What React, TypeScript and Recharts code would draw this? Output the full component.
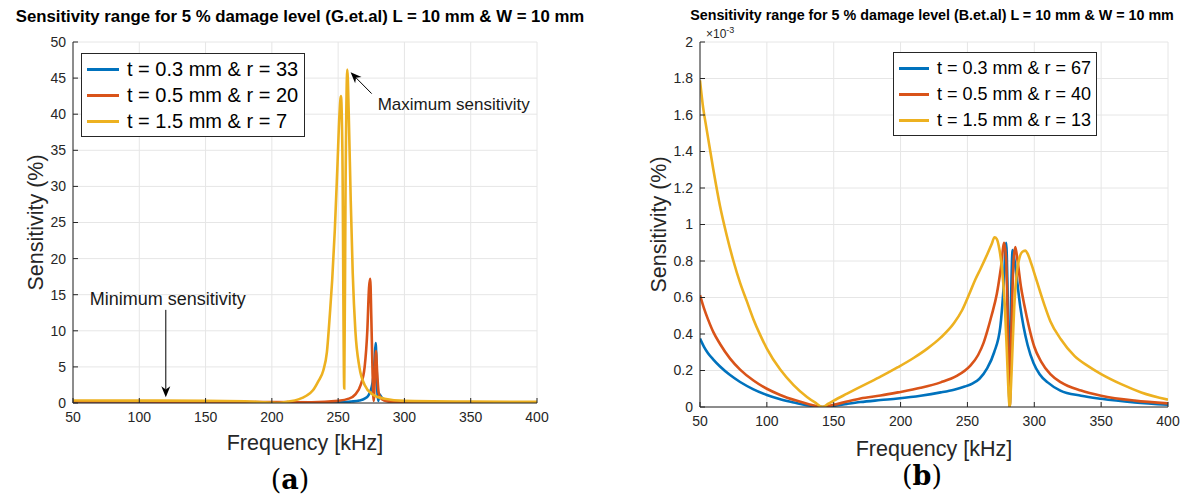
import React from "react";
import {
  LineChart,
  Line,
  XAxis,
  YAxis,
  CartesianGrid,
  Legend,
  ReferenceLine,
} from "recharts";

const BLUE = "#0072BD";
const ORANGE = "#D95319";
const YELLOW = "#EDB120";
const AXIS = "#262626";
const GRID = "#e6e6e6";

const freqTicks = [50, 100, 150, 200, 250, 300, 350, 400];
const ticksA = [0, 5, 10, 15, 20, 25, 30, 35, 40, 45, 50];
const ticksB = [0, 0.2, 0.4, 0.6, 0.8, 1, 1.2, 1.4, 1.6, 1.8, 2];

// (a) G.et.al, sensitivity in %
const freqA1 = [50, 100, 150, 200, 230, 250, 260, 266, 270, 273, 275, 276.5, 277.5, 278.3, 279, 279.6, 280.3, 281, 282, 284, 288, 295, 320, 360, 400];
const sensA1 = [0.12, 0.11, 0.1, 0.08, 0.06, 0.1, 0.2, 0.35, 0.6, 1.1, 2, 3.5, 6, 8.3, 5, 1.5, 0.3, 1.2, 1.0, 0.5, 0.25, 0.12, 0.05, 0.03, 0.02];
const freqA2 = [50, 100, 150, 200, 230, 250, 258, 263, 267, 270, 272, 273.3, 274.2, 275, 276, 276.8, 277.6, 278.5, 279.5, 280.5, 282, 285, 290, 300, 350, 400];
const sensA2 = [0.22, 0.2, 0.18, 0.12, 0.1, 0.3, 0.6, 1.2, 2.5, 5, 10, 16, 17.2, 12, 4, 0.3, 3, 7.2, 4, 1.5, 0.7, 0.35, 0.15, 0.08, 0.04, 0.02];
const freqA3 = [50, 100, 150, 180, 195, 203.6, 212, 220, 226, 231, 235, 238.8, 241.5, 243.8, 245.5, 247.5, 249.5, 251, 252.1, 253.2, 254.6, 255.6, 256.9, 258, 259.5, 261, 263, 266, 270, 276, 285, 300, 350, 400];
const sensA3 = [0.35, 0.33, 0.3, 0.25, 0.1, 0, 0.2, 0.5, 1, 1.76, 3, 4.5, 7, 12.4, 17, 24, 33, 40, 42.5, 35, 2, 30, 46.2, 40, 28, 18, 10, 5, 2.5, 1.2, 0.6, 0.3, 0.2, 0.15];

// (b) B.et.al, sensitivity in units of 1e-3 %
const freqB1 = [50, 53, 56, 60, 65, 72.5, 80, 90, 100, 110, 120, 127, 135, 142, 150, 160, 170, 185, 198, 215, 230, 240, 248, 254, 259, 264.6, 270, 274.6, 277, 279, 280, 281.6, 282.7, 283.8, 285.3, 287, 289.5, 292, 295, 299.5, 304, 310, 319.5, 335, 350, 375, 400];
const sensB1 = [0.375, 0.33, 0.295, 0.26, 0.222, 0.175, 0.137, 0.097, 0.066, 0.043, 0.025, 0.014, 0.005, 0, 0.006, 0.017, 0.027, 0.038, 0.047, 0.062, 0.08, 0.095, 0.112, 0.13, 0.155, 0.21, 0.3, 0.44, 0.65, 0.9, 0.65, 0, 0.6, 0.86, 0.8, 0.7, 0.55, 0.44, 0.34, 0.24, 0.18, 0.135, 0.09, 0.062, 0.045, 0.025, 0.012];
const freqB2 = [50, 53, 56, 60, 65, 72.5, 80, 90, 100, 110, 122, 132, 141.8, 150, 160, 170, 185, 198, 215, 230, 242, 252, 258, 262, 265, 268, 272, 275, 277.5, 279, 280.5, 281.6, 283, 284.5, 285.8, 287.5, 290, 292.5, 296, 300, 305, 312, 320, 335, 350, 375, 400];
const sensB2 = [0.613, 0.54, 0.48, 0.41, 0.345, 0.265, 0.205, 0.145, 0.1, 0.066, 0.035, 0.014, 0, 0.012, 0.03, 0.047, 0.063, 0.08, 0.105, 0.135, 0.17, 0.225, 0.285, 0.35, 0.42, 0.5, 0.62, 0.76, 0.9, 0.8, 0.35, 0, 0.45, 0.8, 0.876, 0.8, 0.66, 0.56, 0.44, 0.33, 0.25, 0.18, 0.135, 0.09, 0.062, 0.035, 0.02];
const freqB3 = [50, 52, 55, 60, 65, 70, 75, 80, 85, 90, 95, 100, 110, 120, 130, 136, 141.8, 146, 150, 160, 168, 177, 185, 198, 210, 220, 230, 240, 246, 252, 256, 260, 265, 268, 270.3, 272, 274, 276, 278, 279.5, 280.5, 281.6, 282.6, 283.6, 285, 287, 289, 291, 293.3, 295, 298, 301, 304, 308, 312, 320, 330, 340, 350, 365, 380, 400];
const sensB3 = [1.79, 1.66, 1.52, 1.3, 1.1, 0.94, 0.8, 0.68, 0.58, 0.48, 0.395, 0.32, 0.205, 0.12, 0.055, 0.025, 0, 0.018, 0.035, 0.073, 0.103, 0.136, 0.166, 0.218, 0.27, 0.32, 0.38, 0.46, 0.53, 0.63, 0.7, 0.76, 0.84, 0.89, 0.93, 0.92, 0.86, 0.75, 0.55, 0.3, 0.12, 0, 0.12, 0.3, 0.55, 0.74, 0.82, 0.85, 0.857, 0.84, 0.78, 0.71, 0.64, 0.55, 0.47, 0.37, 0.28, 0.225, 0.18, 0.125, 0.08, 0.04];

const zip = (xs: number[], ys: number[]) => xs.map((f, i) => ({ f, s: ys[i] }));

const namesA = ["t = 0.3 mm & r = 33", "t = 0.5 mm & r = 20", "t = 1.5 mm & r = 7"];
const namesB = ["t = 0.3 mm & r = 67", "t = 0.5 mm & r = 40", "t = 1.5 mm & r = 13"];

const tickStyle = { fill: AXIS, fontSize: 14 };

const renderLegend = (boxWidth: number, swatch: number, fontSize: number) => (props: any) => (
  <div
    style={{
      width: boxWidth,
      boxSizing: "border-box",
      border: "1px solid " + AXIS,
      background: "#fff",
      padding: "2px 0 2px 5px",
    }}
  >
    {props.payload.map((e: any) => (
      <div key={e.value} style={{ display: "flex", alignItems: "center", height: 26 }}>
        <span style={{ width: swatch, borderTop: `3px solid ${e.color}`, marginRight: 8 }} />
        <span style={{ fontSize, color: "#000", whiteSpace: "nowrap" }}>{e.value}</span>
      </div>
    ))}
  </div>
);

// arrow annotation drawn on a reference segment (tail -> tip)
const arrow = (text: string, where: "right" | "above", fontSize: number) => (p: any) => {
  const { x1, y1, x2, y2 } = p;
  const a = Math.atan2(y2 - y1, x2 - x1);
  const L = 11;
  const W = 4.5;
  const c = Math.cos(a);
  const s = Math.sin(a);
  const bx = x2 - L * c;
  const by = y2 - L * s;
  const nx = x2 - 0.7 * L * c;
  const ny = y2 - 0.7 * L * s;
  return (
    <g>
      <line x1={x1} y1={y1} x2={nx} y2={ny} stroke="#000" strokeWidth={1} />
      <polygon
        points={`${x2},${y2} ${bx - s * W},${by + c * W} ${nx},${ny} ${bx + s * W},${by - c * W}`}
        fill="#000"
      />
      {where === "right" ? (
        <text x={x1 + 6} y={y1 + 11} dominantBaseline="central" fontSize={fontSize} fill="#1a1a1a">
          {text}
        </text>
      ) : (
        <text x={x1 + 2} y={y1 - 11} textAnchor="middle" dominantBaseline="central" fontSize={fontSize} fill="#1a1a1a">
          {text}
        </text>
      )}
    </g>
  );
};

export default function App() {
  return (
    <div
      style={{
        position: "absolute",
        left: 0,
        top: 0,
        width: 1186,
        height: 498,
        background: "#fff",
        fontFamily: "'Liberation Sans', Arial, sans-serif",
      }}
    >
      <div style={{ position: "absolute", left: 0, width: 600, top: 7, textAlign: "center", fontWeight: "bold", fontSize: 16.8, color: "#000" }}>
        Sensitivity range for 5 % damage level (G.et.al) L = 10 mm &amp; W = 10 mm
      </div>
      <div style={{ position: "absolute", left: 682, width: 500, top: 7, textAlign: "center", fontWeight: "bold", fontSize: 14.3, color: "#000" }}>
        Sensitivity range for 5 % damage level (B.et.al) L = 10 mm &amp; W = 10 mm
      </div>

      {/* (a) */}
      <div style={{ position: "absolute", left: 0, top: 0 }}>
        <LineChart width={560} height={498} margin={{ top: 42, right: 23, bottom: 17, left: 0 }}>
          <CartesianGrid stroke={GRID} />
          <XAxis
            dataKey="f"
            type="number"
            domain={[50, 400]}
            ticks={freqTicks}
            height={78}
            tick={tickStyle}
            tickSize={-5}
            tickMargin={14}
            stroke={AXIS}
            allowDataOverflow
            label={{ value: "Frequency [kHz]", position: "center", style: { fontSize: 21.5, fill: AXIS } }}
          />
          <XAxis xAxisId="top" orientation="top" type="number" domain={[50, 400]} ticks={freqTicks} height={0} tickSize={-5} tickFormatter={() => ""} stroke={AXIS} />
          <YAxis
            type="number"
            domain={[0, 50]}
            ticks={ticksA}
            width={73}
            tick={tickStyle}
            tickSize={-5}
            tickMargin={12}
            stroke={AXIS}
            allowDataOverflow
            label={{ value: "Sensitivity (%)", angle: -90, position: "center", dx: -1, style: { fontSize: 21.5, fill: AXIS, textAnchor: "middle" } }}
          />
          <YAxis yAxisId="right" orientation="right" type="number" domain={[0, 50]} ticks={ticksA} width={0} tickSize={-5} tickFormatter={() => ""} stroke={AXIS} />
          <Legend content={renderLegend(224, 32, 20)} layout="horizontal" verticalAlign="middle" align="center" wrapperStyle={{ left: 81, top: 53, width: 224 }} />
          <Line data={zip(freqA1, sensA1)} dataKey="s" name={namesA[0]} stroke={BLUE} strokeWidth={2.6} dot={false} type="monotone" isAnimationActive={false} />
          <Line data={zip(freqA2, sensA2)} dataKey="s" name={namesA[1]} stroke={ORANGE} strokeWidth={2.6} dot={false} type="monotone" isAnimationActive={false} />
          <Line data={zip(freqA3, sensA3)} dataKey="s" name={namesA[2]} stroke={YELLOW} strokeWidth={2.6} dot={false} type="monotone" isAnimationActive={false} />
          <ReferenceLine segment={[{ x: 275.3, y: 42.85 }, { x: 259.4, y: 45.8 }]} shape={arrow("Maximum sensitivity", "right", 17)} ifOverflow="visible" />
          <ReferenceLine segment={[{ x: 120, y: 12.9 }, { x: 120, y: 0.8 }]} shape={arrow("Minimum sensitivity", "above", 18)} ifOverflow="visible" />
        </LineChart>
      </div>

      {/* (b) */}
      <div style={{ position: "absolute", left: 608, top: 0 }}>
        <LineChart width={578} height={498} margin={{ top: 42, right: 18, bottom: 9, left: 0 }}>
          <CartesianGrid stroke={GRID} />
          <XAxis
            dataKey="f"
            type="number"
            domain={[50, 400]}
            ticks={freqTicks}
            height={82}
            tick={tickStyle}
            tickSize={-5}
            tickMargin={14}
            stroke={AXIS}
            allowDataOverflow
            label={{ value: "Frequency [kHz]", position: "center", style: { fontSize: 21.5, fill: AXIS } }}
          />
          <XAxis xAxisId="top" orientation="top" type="number" domain={[50, 400]} ticks={freqTicks} height={0} tickSize={-5} tickFormatter={() => ""} stroke={AXIS} />
          <YAxis
            type="number"
            domain={[0, 2]}
            ticks={ticksB}
            width={92}
            tick={tickStyle}
            tickSize={-5}
            tickMargin={12}
            stroke={AXIS}
            allowDataOverflow
            label={{ value: "Sensitivity (%)", angle: -90, position: "center", dx: 4, style: { fontSize: 21.5, fill: AXIS, textAnchor: "middle" } }}
          />
          <YAxis yAxisId="right" orientation="right" type="number" domain={[0, 2]} ticks={ticksB} width={0} tickSize={-5} tickFormatter={() => ""} stroke={AXIS} />
          <Legend content={renderLegend(204, 30, 18)} layout="horizontal" verticalAlign="middle" align="center" wrapperStyle={{ left: 285, top: 52, width: 204 }} />
          <Line data={zip(freqB1, sensB1)} dataKey="s" name={namesB[0]} stroke={BLUE} strokeWidth={2.6} dot={false} type="monotone" isAnimationActive={false} />
          <Line data={zip(freqB2, sensB2)} dataKey="s" name={namesB[1]} stroke={ORANGE} strokeWidth={2.6} dot={false} type="monotone" isAnimationActive={false} />
          <Line data={zip(freqB3, sensB3)} dataKey="s" name={namesB[2]} stroke={YELLOW} strokeWidth={2.6} dot={false} type="monotone" isAnimationActive={false} />
        </LineChart>
        <div style={{ position: "absolute", left: 98, top: 25, fontSize: 12, color: AXIS }}>
          ×10<sup style={{ fontSize: 9 }}>-3</sup>
        </div>
      </div>

      <div style={{ position: "absolute", left: 240, width: 100, top: 464, textAlign: "center", fontFamily: "'DejaVu Serif', serif", fontSize: 27, color: "#000" }}>
        (<b>a</b>)
      </div>
      <div style={{ position: "absolute", left: 872, width: 100, top: 460, textAlign: "center", fontFamily: "'DejaVu Serif', serif", fontSize: 27, color: "#000" }}>
        (<b>b</b>)
      </div>
    </div>
  );
}
